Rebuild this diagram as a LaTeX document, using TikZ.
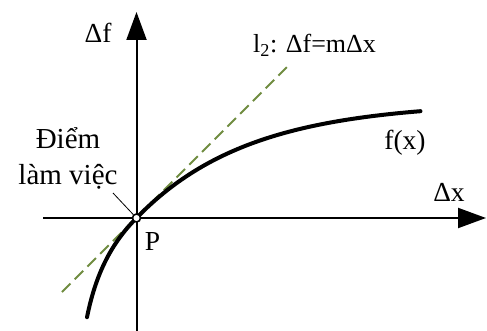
\documentclass[tikz,border=0pt]{standalone}
\usepackage{fontspec}
\setmainfont{Liberation Serif}
\usetikzlibrary{arrows.meta}
\definecolor{dashgreen}{RGB}{112,140,64}
\begin{document}
\begin{tikzpicture}[x=1pt,y=-1pt,
  axis/.style={line width=2pt,-{Triangle[length=28pt,width=20pt]}},
  lbl/.style={font=\fontsize{27.5}{30}\selectfont,inner sep=0pt,anchor=base},
  biglbl/.style={font=\fontsize{29}{34}\selectfont,inner sep=0pt,anchor=base},
  tangent/.style={dashgreen,line width=2pt,dash pattern=on 12pt off 6pt},
  curve/.style={line width=4pt,line cap=round},
  dot/.style={circle,draw=black,fill=white,line width=1.6pt,minimum size=8pt,inner sep=0pt}]
\useasboundingbox (0,0) rectangle (487,331);
\coordinate (xs) at (43,218);
\coordinate (xe) at (486,218);
\coordinate (ys) at (136.5,331);
\coordinate (ye) at (136.5,12);
\draw[axis] (xs) -- (xe);
\draw[axis] (ys) -- (ye);
\coordinate (t1) at (62,292);
\coordinate (t2) at (290,64);
\draw[tangent] (t1) -- (t2);
\begin{scope}[shift={(136.5,218)}]
\draw[curve] plot[domain=-49.5:0,samples=60,variable=\u] ({\u},{-62*ln(1+\u/62)})
  -- plot[domain=0:284,samples=100,variable=\u] ({\u},{-116*(1-exp(-\u/112))});
\end{scope}
\node[dot] (P) at (136.5,218) {};
\node[lbl] (Plbl) at (152.5,250) {P};
\node[biglbl] (op1) at (68,149) {Điểm};
\node[biglbl] (op2) at (68,185) {làm việc};
\coordinate (lead) at (113,193);
\draw[line width=0.8pt] (lead) -- (P);
\node[lbl] (df) at (98,43) {Δf};
\node[lbl,anchor=base west,font=\fontsize{26}{30}\selectfont] (l2) at (253,53) {l\textsubscript{2}: Δf=mΔx};
\node[lbl] (fx) at (405,150) {f(x)};
\node[lbl] (dx) at (449,201) {Δx};
\end{tikzpicture}
\end{document}
